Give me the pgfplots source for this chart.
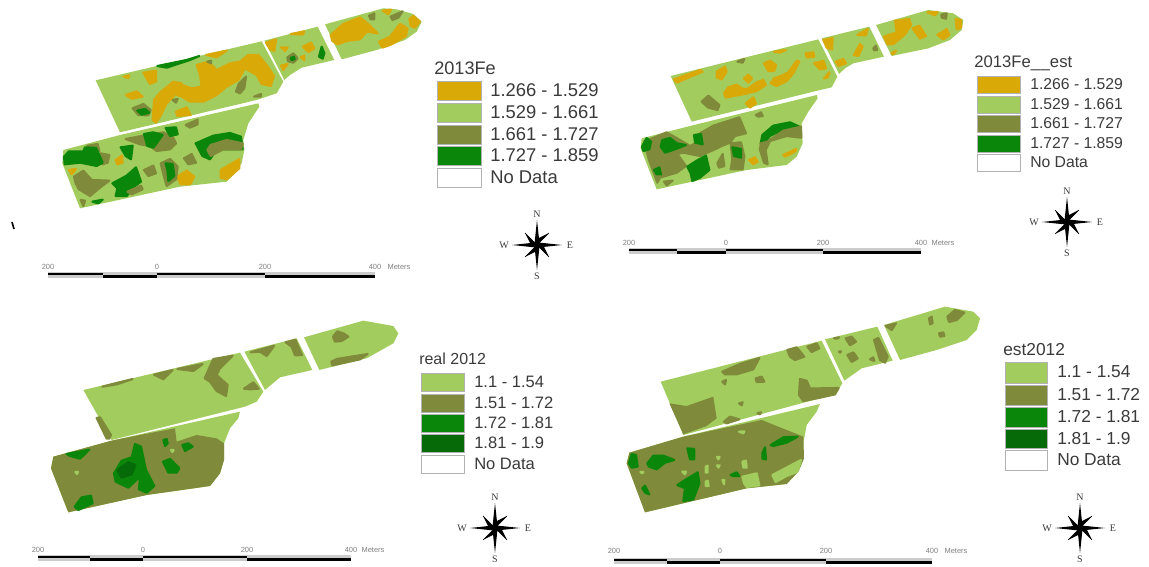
\documentclass[border=0pt]{standalone}
\usepackage{fontspec}
\setmainfont{Liberation Sans}
\newfontfamily\serif{Liberation Serif}
\usepackage{pgfplots}
\pgfplotsset{compat=1.18}

\definecolor{och}{HTML}{D9A908}
\definecolor{lgt}{HTML}{A3CC5E}
\definecolor{olv}{HTML}{7F8A3A}
\definecolor{grn}{HTML}{0A860A}
\definecolor{dkg}{HTML}{066A08}
\definecolor{txt}{HTML}{3A3A3A}

% panels are plotted in the coordinates of a 3x crop of the picture
\pgfplotsset{panel/.style={
    hide axis, scale only axis, clip=false,
    width=320pt, height=199.5pt,
    xmin=0, xmax=1280, ymin=0, ymax=798,
    y dir=reverse, anchor=north west}}
\newcommand{\field}[2]{\addplot[fill=#1,draw=none] coordinates {#2} -- cycle;}
\newcommand{\blob}[2]{\addplot[fill=#1,draw=#1,line width=1.6pt,line join=round] coordinates {#2} -- cycle;}

\newcommand{\compass}[2]{%
  \begin{scope}[shift={(#1,#2-566)}]
    \fill[black] (0,-25)--(2.4,-2.4)--(25,0)--(2.4,2.4)--(0,25)--(-2.4,2.4)--(-25,0)--(-2.4,-2.4)--cycle;
    \fill[black] (12,-12)--(1.5,-1.5)--(0,-6)--cycle (12,12)--(1.5,1.5)--(6,0)--cycle
       (-12,12)--(-1.5,1.5)--(0,6)--cycle (-12,-12)--(-1.5,-1.5)--(-6,0)--cycle;
    \draw[black,line width=.3pt] (12,-12)--(-12,12) (-12,-12)--(12,12);
    \node[font=\serif\fontsize{7.5}{8}\selectfont,text=txt] at (0,-31) {N};
    \node[font=\serif\fontsize{7.5}{8}\selectfont,text=txt] at (0,31) {S};
    \node[font=\serif\fontsize{7.5}{8}\selectfont,text=txt] at (-33,0) {W};
    \node[font=\serif\fontsize{7.5}{8}\selectfont,text=txt] at (33,0) {E};
  \end{scope}}
% x0 xmid x1 x2 x3 y labely metersx
\newcommand{\scalebar}[8]{%
  \fill[gray!40] (#1,#6-2) rectangle (#5,#6+4);
  \draw[black,line width=1.9pt] (#1,#6)--(#2,#6) (#2,#6+2.4)--(#3,#6+2.4) (#3,#6)--(#4,#6) (#4,#6+2.4)--(#5,#6+2.4);
  \foreach \v/\l in {#1/200,#3/0,#4/200,#5/400}
    \node[font=\fontsize{5.6}{6}\selectfont,text=gray] at (\v,#7) {\l};
  \node[font=\fontsize{5.6}{6}\selectfont,text=gray] at (#8,#7) {Meters};}

\begin{document}
\begin{tikzpicture}
\path (0,0) rectangle (861.75pt,424.5pt);

% ---------- 2013Fe ----------
\begin{axis}[panel, at={(0pt,424.5pt)}]
\field{lgt}{(287,241)(785,124)(850,245)(830,280)(770,300)(360,397)}
\field{lgt}{(793,122)(953,80)(1003,180)(905,203)(870,225)(853,240)}
\field{lgt}{(975,73)(1150,25)(1190,28)(1240,42)(1265,65)(1250,95)(1215,120)(1130,150)(1025,178)}
\field{lgt}{(190,450)(360,405)(775,310)(778,320)(745,370)(730,420)(733,450)(725,490)(705,520)(680,545)(540,560)(240,625)(187,490)}
\blob{och}{(590,195)(625,185)(650,210)(690,190)(720,185)(745,165)(775,165)(800,195)(822,228)(812,258)(785,252)(770,225)(735,205)(715,240)(680,260)(650,285)(610,305)(570,305)(545,290)(530,285)(545,255)(575,265)(605,260)(600,225)}
\blob{och}{(430,218)(468,212)(468,245)(450,252)}
\blob{och}{(378,285)(410,274)(428,290)(395,296)}
\blob{och}{(458,360)(462,300)(480,278)(520,245)(545,250)(520,290)(500,310)(480,350)(468,368)}
\blob{och}{(528,335)(560,322)(572,345)(532,348)}
\blob{och}{(372,230)(388,226)(385,234)}
\blob{och}{(618,165)(680,152)(650,172)}
\blob{olv}{(398,325)(430,312)(452,330)(445,346)(415,345)}
\blob{grn}{(412,332)(435,327)(448,338)(425,344)}
\blob{olv}{(708,275)(716,252)(738,230)(733,265)(720,280)}
\blob{olv}{(762,290)(783,282)(783,290)}
\blob{grn}{(472,198)(560,180)(598,168)(570,180)(500,203)}
\blob{olv}{(622,185)(633,182)(633,190)}
\blob{olv}{(518,300)(533,297)(528,308)}
\blob{och}{(798,128)(828,118)(823,153)(810,148)}
\blob{och}{(843,142)(863,142)(855,153)}
\blob{och}{(908,140)(933,128)(943,145)(925,156)}
\blob{och}{(902,172)(913,167)(913,180)}
\blob{och}{(843,197)(863,192)(850,210)}
\blob{och}{(872,102)(913,94)(908,104)}
\blob{olv}{(862,172)(880,160)(893,175)(880,188)(864,184)}
\blob{grn}{(872,174)(882,170)(884,178)(874,180)}
\blob{grn}{(957,170)(965,140)(973,160)(968,176)}
\blob{och}{(992,105)(1030,72)(1080,52)(1108,75)(1133,100)(1100,95)(1080,118)(1040,123)(1012,133)(997,123)}
\blob{och}{(1137,125)(1170,110)(1200,72)(1223,85)(1218,108)(1175,133)(1147,143)}
\blob{och}{(1228,57)(1240,48)(1260,65)(1245,83)(1232,78)}
\blob{och}{(1148,32)(1173,29)(1165,43)}
\blob{olv}{(1107,47)(1123,40)(1123,58)(1112,58)}
\blob{olv}{(1172,50)(1208,34)(1195,53)(1177,60)}
% lower field
\blob{olv}{(262,437)(293,432)(298,453)(272,448)}
\blob{olv}{(302,460)(328,465)(323,488)(307,493)}
\blob{grn}{(192,470)(207,454)(250,454)(255,442)(288,444)(298,465)(308,488)(290,498)(240,488)(194,493)}
\blob{grn}{(362,442)(398,437)(393,478)(377,468)}
\blob{olv}{(222,530)(250,512)(275,540)(328,542)(300,563)(270,588)(237,568)(227,550)}
\blob{grn}{(337,550)(380,527)(408,502)(423,545)(405,558)(380,588)(347,588)(352,565)}
\blob{olv}{(382,575)(423,557)(428,568)(395,583)}
\blob{olv}{(377,417)(430,407)(490,397)(518,410)(528,430)(510,448)(470,453)(450,438)(420,433)}
\blob{grn}{(432,402)(460,397)(488,405)(460,443)(442,438)}
\blob{grn}{(497,384)(528,382)(533,403)(510,408)}
\blob{olv}{(557,375)(593,359)(593,373)(570,383)}
\blob{grn}{(587,430)(640,407)(690,399)(723,410)(728,448)(690,448)(650,448)(630,478)(607,468)}
\blob{olv}{(632,435)(680,420)(728,430)(723,448)(670,448)(632,468)(622,450)}
\blob{och}{(662,510)(718,477)(718,505)(680,538)(662,533)}
\blob{och}{(532,530)(560,512)(583,530)(570,553)(542,553)}
\blob{olv}{(482,490)(510,477)(533,500)(528,538)(500,558)(492,530)}
\blob{grn}{(497,490)(518,492)(523,528)(505,543)(502,510)}
\blob{olv}{(432,510)(460,497)(468,520)(445,528)}
\blob{olv}{(552,475)(575,462)(588,488)(565,493)}
\blob{och}{(347,480)(365,467)(368,488)(352,493)}
\blob{olv}{(242,600)(255,602)(250,618)}
\blob{grn}{(277,605)(308,599)(295,610)}
\blob{och}{(207,510)(228,507)(215,523)}
\end{axis}

% ---------- 2013Fe__est ----------
\begin{axis}[panel, at={(450pt,424.5pt)}]
\field{lgt}{(212,228)(655,118)(712,230)(695,262)(640,275)(275,365)}
\field{lgt}{(665,115)(808,80)(852,170)(760,190)(735,205)(717,222)}
\field{lgt}{(828,75)(985,30)(1060,40)(1090,60)(1085,90)(1050,120)(985,145)(875,168)}
\field{lgt}{(125,415)(270,378)(650,285)(653,295)(625,335)(605,370)(608,430)(590,470)(560,495)(440,510)(170,568)(122,445)}
\blob{och}{(222,238)(300,210)(308,215)(230,248)}
\blob{och}{(350,215)(375,200)(380,215)(365,238)(350,233)}
\blob{och}{(432,235)(445,224)(456,235)(445,248)}
\blob{och}{(372,280)(385,262)(410,254)(425,265)(440,268)(470,247)(490,240)(498,255)(470,273)(430,283)(400,288)(377,293)}
\blob{och}{(522,235)(545,227)(565,217)(590,182)(598,185)(580,220)(560,243)(530,258)(512,250)}
\blob{och}{(492,190)(510,182)(528,195)(523,213)(505,213)}
\blob{och}{(617,160)(640,157)(643,170)(620,173)}
\blob{och}{(642,190)(670,182)(678,205)(660,208)}
\blob{och}{(672,235)(688,217)(683,233)}
\blob{och}{(437,310)(460,292)(468,310)(450,323)}
\blob{och}{(522,155)(558,150)(540,158)}
\blob{olv}{(305,305)(325,287)(358,315)(353,330)(325,323)}
\blob{olv}{(412,185)(433,177)(428,188)}
\blob{och}{(670,120)(698,114)(696,148)(680,143)}
\blob{och}{(707,185)(730,177)(738,190)(715,198)}
\blob{och}{(762,165)(780,132)(788,140)(775,168)}
\blob{och}{(772,105)(803,87)(798,106)}
\blob{olv}{(820,145)(828,137)(831,150)(822,151)}
\blob{och}{(852,110)(890,97)(885,62)(928,57)(933,75)(915,103)(880,133)(862,133)}
\blob{och}{(937,85)(958,77)(978,108)(960,116)}
\blob{och}{(1012,105)(1040,87)(1048,105)(1030,118)}
\blob{och}{(1067,57)(1083,60)(1083,83)(1070,88)}
\blob{och}{(982,37)(1013,36)(1005,46)}
\blob{och}{(874,160)(888,152)(880,163)}
\blob{olv}{(1024,44)(1040,40)(1038,56)(1025,53)}
% lower field
\blob{olv}{(132,425)(200,397)(240,420)(270,438)(290,428)(300,400)(340,377)(418,352)(438,400)(405,408)(390,428)(365,438)(345,448)(300,468)(250,458)(232,462)(258,498)(230,518)(180,533)(172,548)(147,480)}
\blob{grn}{(126,440)(140,414)(153,425)(148,448)(130,453)}
\blob{grn}{(187,420)(210,414)(230,430)(258,435)(225,448)(195,458)(182,440)}
\blob{grn}{(282,405)(303,402)(308,433)(285,428)}
\blob{grn}{(262,500)(290,482)(318,467)(328,510)(300,533)(277,543)(272,520)}
\blob{grn}{(162,510)(178,502)(183,523)(170,523)}
\blob{olv}{(352,490)(368,462)(373,498)(357,503)}
\blob{olv}{(392,430)(423,427)(433,470)(428,508)(392,508)(397,480)}
\blob{grn}{(397,442)(423,447)(423,473)(402,468)}
\blob{grn}{(487,405)(520,377)(570,367)(598,380)(550,388)(510,408)(490,433)(482,430)}
\blob{olv}{(502,425)(550,392)(603,380)(604,413)(560,408)(510,423)(497,450)(503,493)(492,488)(480,450)(482,430)}
\blob{och}{(550,465)(588,447)(588,453)(555,470)}
\blob{och}{(447,480)(465,472)(473,485)(460,493)}
\blob{olv}{(467,345)(483,337)(488,348)(475,350)}
\blob{olv}{(192,545)(218,542)(200,556)}
\end{axis}

% ---------- real 2012 ----------
\begin{axis}[panel, at={(0pt,199.5pt)}]
\field{lgt}{(250,270)(720,158)(790,275)(770,305)(735,320)(335,420)}
\field{lgt}{(733,155)(890,115)(937,210)(840,232)(795,270)}
\field{lgt}{(912,112)(1090,62)(1180,78)(1195,100)(1180,130)(1100,175)(958,210)}
\field{lgt}{(160,470)(335,422)(720,335)(715,355)(690,385)(672,430)(672,480)(660,520)(630,558)(440,585)(205,637)(153,505)}
\blob{olv}{(307,260)(398,237)(350,253)}
\blob{olv}{(462,224)(518,210)(490,238)}
\blob{olv}{(532,207)(608,192)(580,213)}
\blob{olv}{(614,235)(640,177)(698,167)(660,205)(650,225)(683,255)(678,288)(650,273)(630,245)}
\blob{olv}{(732,266)(760,247)(776,266)(750,268)}
\blob{olv}{(290,354)(300,352)(333,405)(328,416)(320,416)}
\blob{olv}{(752,157)(823,137)(800,168)(780,155)}
\blob{olv}{(857,127)(886,119)(906,165)(885,166)(875,140)}
\blob{olv}{(999,110)(1012,94)(1030,100)(1045,110)(1025,123)(1005,125)}
\blob{olv}{(994,185)(1010,177)(1103,162)(1080,178)(997,196)}
\field{olv}{(160,470)(335,422)(370,415)(420,405)(525,385)(530,425)(590,405)(650,415)(672,430)(672,480)(660,520)(630,558)(440,585)(205,637)(153,505)}
\blob{grn}{(200,462)(268,449)(240,476)(210,468)}
\blob{grn}{(342,520)(365,482)(395,472)(405,432)(423,440)(438,510)(463,558)(440,578)(417,568)(420,530)(385,563)(347,545)}
\blob{dkg}{(352,510)(385,487)(406,495)(395,523)(365,533)}
\blob{grn}{(489,485)(510,477)(538,505)(530,518)(505,518)}
\blob{grn}{(547,435)(565,430)(578,440)(555,453)}
\blob{grn}{(490,420)(500,417)(503,430)(495,438)}
\blob{grn}{(224,620)(245,592)(273,587)(278,610)(235,630)}
\blob{lgt}{(226,516)(234,516)(231,522)}
\blob{lgt}{(513,450)(521,450)(517,456)}
\end{axis}

% ---------- est2012 ----------
\begin{axis}[panel, at={(442.5pt,199.5pt)}]
\field{lgt}{(212,245)(695,122)(757,250)(735,285)(690,295)(280,405)}
\field{lgt}{(705,118)(862,80)(908,182)(815,205)(763,242)}
\field{lgt}{(882,75)(1065,20)(1150,35)(1170,55)(1160,90)(1130,120)(1040,150)(930,180)}
\field{lgt}{(118,458)(280,410)(690,312)(680,335)(650,375)(640,430)(640,480)(625,515)(590,552)(470,565)(165,637)(110,490)}
\blob{olv}{(397,215)(450,192)(508,174)(490,208)(440,223)(405,223)}
\blob{olv}{(592,150)(620,142)(643,170)(615,180)(600,170)}
\blob{olv}{(652,140)(680,130)(688,145)(665,156)}
\blob{olv}{(497,235)(515,230)(523,245)(500,246)}
\blob{olv}{(397,245)(408,240)(405,253)}
\blob{olv}{(627,285)(630,237)(650,242)(660,265)(690,265)(746,264)(735,283)(690,293)(640,303)}
\field{olv}{(238,310)(290,318)(370,290)(380,355)(360,370)(350,378)(280,403)}
\blob{olv}{(402,365)(420,350)(448,358)(410,370)}
\blob{olv}{(447,310)(458,307)(455,316)}
\blob{olv}{(502,340)(513,337)(510,343)}
\blob{olv}{(767,115)(785,110)(798,125)(780,136)}
\blob{olv}{(772,165)(790,157)(803,175)(785,186)}
\blob{olv}{(852,120)(865,114)(893,170)(885,188)(870,180)}
\blob{olv}{(840,178)(850,172)(853,183)}
\blob{olv}{(747,155)(753,154)(750,158)}
\blob{olv}{(732,115)(748,112)(740,116)}
\blob{olv}{(887,78)(918,70)(905,90)}
\blob{olv}{(1017,55)(1025,50)(1028,70)(1020,73)}
\blob{olv}{(1072,50)(1095,30)(1123,38)(1100,60)(1077,66)}
\blob{olv}{(1047,100)(1060,97)(1063,108)(1050,110)}
\field{olv}{(118,458)(280,410)(515,360)(640,410)(642,475)(625,515)(590,552)(470,565)(165,637)(110,490)}
\blob{lgt}{(547,525)(633,480)(623,515)(590,528)(557,546)}
\blob{lgt}{(457,530)(500,520)(508,556)(470,561)(462,550)}
\blob{grn}{(117,490)(125,462)(138,465)(143,500)(125,503)}
\blob{grn}{(172,490)(190,467)(220,467)(253,480)(225,488)(200,508)(177,500)}
\blob{grn}{(292,445)(313,447)(313,478)(300,478)}
\blob{grn}{(262,555)(290,537)(323,517)(328,550)(310,598)(280,603)(285,565)}
\blob{grn}{(517,460)(525,442)(528,478)(517,476)}
\blob{grn}{(542,435)(580,412)(623,410)(590,428)(550,438)}
\blob{grn}{(422,525)(440,517)(448,528)(430,528)}
\blob{grn}{(157,565)(165,557)(178,583)(165,578)}
\blob{lgt}{(347,500)(353,497)(353,518)(347,518)}
\blob{lgt}{(347,545)(353,542)(356,558)(347,558)}
\blob{lgt}{(277,515)(288,515)(285,523)}
\blob{lgt}{(397,540)(403,540)(402,553)}
\blob{lgt}{(381,471)(389,471)(385,478)}
\blob{lgt}{(381,496)(389,496)(385,503)}
\blob{lgt}{(457,485)(468,482)(470,503)(460,503)}
\blob{lgt}{(447,395)(463,394)(460,400)}
\blob{lgt}{(151,516)(160,516)(157,520)}
\end{axis}

% legends, compasses, scale bars in picture pixels (y down from the top)
\begin{scope}[x=.75pt,y=-.75pt,yshift=424.5pt]
\tikzset{lt/.style={anchor=west,inner sep=0pt,text=txt},
         sw/.style={draw=gray!60,line width=.6pt}}
% 2013Fe
\node[lt,font=\fontsize{13.6}{15}\selectfont] at (434,68) {2013Fe};
\foreach \c/\a/\b/\t in {och/81/100/{1.266 - 1.529},lgt/103/122/{1.529 - 1.661},olv/125/144/{1.661 - 1.727},grn/146/165/{1.727 - 1.859},white/168/187/{No Data}}{
  \filldraw[sw,fill=\c] (437,\a) rectangle (481,\b);
  \node[lt,font=\fontsize{13.8}{15}\selectfont] at (490,\a+9.5) {\t};}
% 2013Fe__est
\node[lt,font=\fontsize{12.5}{14}\selectfont] at (974,63) {2013Fe\_\kern.5pt\_est};
\foreach \c/\a/\b/\t in {och/76/93/{1.266 - 1.529},lgt/96/113/{1.529 - 1.661},olv/115/132/{1.661 - 1.727},grn/135/152/{1.727 - 1.859},white/154/171/{No Data}}{
  \filldraw[sw,fill=\c] (977,\a) rectangle (1020,\b);
  \node[lt,font=\fontsize{11.8}{14}\selectfont] at (1030,\a+8.5) {\t};}
% real 2012
\node[lt,font=\fontsize{12}{14}\selectfont] at (419,359) {real 2012};
\foreach \c/\a/\b/\t in {lgt/373/391/{1.1 - 1.54},olv/394/412/{1.51 - 1.72},grn/414/432/{1.72 - 1.81},dkg/434/452/{1.81 - 1.9},white/455/473/{No Data}}{
  \filldraw[sw,fill=\c] (421,\a) rectangle (464,\b);
  \node[lt,font=\fontsize{12.4}{14}\selectfont] at (474,\a+9) {\t};}
% est2012
\node[lt,font=\fontsize{13}{15}\selectfont] at (1003,350) {est2012};
\foreach \c/\a/\b/\t in {lgt/362/383/{1.1 - 1.54},olv/385/405/{1.51 - 1.72},grn/407/427/{1.72 - 1.81},dkg/429/448/{1.81 - 1.9},white/450/470/{No Data}}{
  \filldraw[sw,fill=\c] (1005,\a) rectangle (1047,\b);
  \node[lt,font=\fontsize{13}{15}\selectfont] at (1057,\a+9.5) {\t};}
\end{scope}
\begin{scope}[x=.75pt,y=-.75pt]
\compass{537}{245}
\compass{1067}{222}
\compass{495}{528}
\compass{1080}{528}
\end{scope}
\begin{scope}[x=.75pt,y=-.75pt,yshift=424.5pt]
\scalebar{48}{103}{157}{265}{375}{274}{267}{399}
\scalebar{629}{677}{726}{823}{921}{250}{243}{943}
\scalebar{38}{90}{143}{247}{351}{557}{550}{373}
\scalebar{614}{667}{720}{826}{932}{560}{551}{956}
\draw[black,line width=1.2pt] (12,222)--(14,229);
\end{scope}
\end{tikzpicture}
\end{document}
